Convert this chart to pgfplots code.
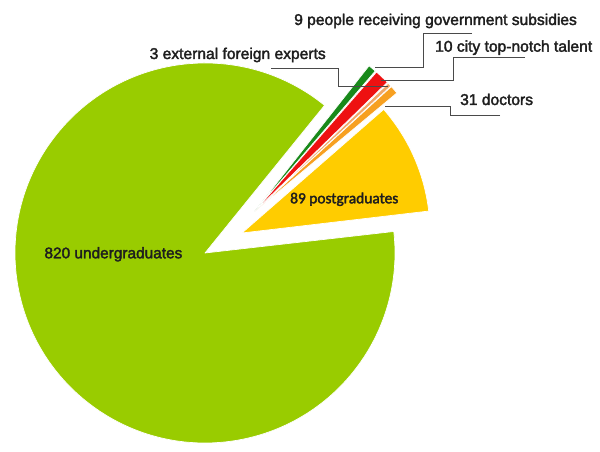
\documentclass[border=0pt]{standalone}
\usepackage{pgfplots}
\pgfplotsset{compat=1.18}
\usepackage{pgfplotstable}
\usepackage{fontspec}
\setmainfont{Liberation Sans}
\newfontfamily\lab{Liberation Sans}[FakeBold=2.2]
\newfontfamily\calib{Carlito}[FakeBold=2.2]
\definecolor{cUnder}{HTML}{99CC00}
\definecolor{cPost}{HTML}{FFCC00}
\definecolor{cDoc}{HTML}{F7A021}
\definecolor{cExp}{HTML}{F0A868}
\definecolor{cCity}{HTML}{EE1111}
\definecolor{cGov}{HTML}{18891A}
\definecolor{cLead}{HTML}{4A4A4A}
\definecolor{cTxt}{HTML}{1E1E1E}

% value, apex (x,y), radius, start/end angle as drawn in the picture
\pgfplotstableread{
value ax ay r a1 a2 col
820 205 199 190 51.0 366.5 cUnder
89 242 219 188 6.7 41.1 cPost
31 254 240 186 39.8 42.4 cDoc
3 254 240 186 42.6 43.8 cExp
10 254 240 186 44.2 48.8 cCity
9 254 240 186 49.3 51.8 cGov
}\slices

\begin{document}
\begin{tikzpicture}
\begin{axis}[
  x=1pt, y=1pt,
  xmin=0, xmax=600, ymin=0, ymax=452,
  hide axis, clip=false,
]
\coordinate (ll) at (axis cs:0,0);
\coordinate (ur) at (axis cs:600,452);
\pgfplotstablegetrowsof{\slices}
\pgfmathtruncatemacro\N{\pgfplotsretval-1}
\pgfplotsforeachungrouped \i in {0,...,\N}{%
  \pgfplotstablegetelem{\i}{ax}\of\slices \let\ax\pgfplotsretval
  \pgfplotstablegetelem{\i}{ay}\of\slices \let\ay\pgfplotsretval
  \pgfplotstablegetelem{\i}{r}\of\slices \let\rr\pgfplotsretval
  \pgfplotstablegetelem{\i}{a1}\of\slices \let\aone\pgfplotsretval
  \pgfplotstablegetelem{\i}{a2}\of\slices \let\atwo\pgfplotsretval
  \pgfplotstablegetelem{\i}{col}\of\slices \let\col\pgfplotsretval
  \edef\cmd{\noexpand\fill[\col, draw=white, line width=0.7pt, line join=round]
    (axis cs:\ax,\ay) -- ([shift={(\aone:\rr pt)}]axis cs:\ax,\ay)
    arc[start angle=\aone, end angle=\atwo, radius=\rr pt] -- cycle;}%
  \cmd
}
% leader lines
\addplot[cLead, line width=0.8pt, no marks] coordinates {(472,419) (423,419) (423,385) (375,385)};
\addplot[cLead, line width=0.8pt, no marks] coordinates {(525,395) (453,395) (453,372) (381,372)};
\addplot[cLead, line width=0.8pt, no marks] coordinates {(500,337) (450,337) (450,346) (385,346)};
\addplot[cLead, line width=0.8pt, no marks] coordinates {(271,384) (338,384) (338,366) (388,366)};
% labels
\node[anchor=base west, inner sep=0, text=cTxt, font=\lab\fontsize{15.6}{18}\selectfont] at (axis cs:294,427) {9 people receiving government subsidies};
\node[anchor=base west, inner sep=0, text=cTxt, font=\lab\fontsize{15.6}{18}\selectfont] at (axis cs:435,400.3) {10 city top-notch talent};
\node[anchor=base west, inner sep=0, text=cTxt, font=\lab\fontsize{15.6}{18}\selectfont] at (axis cs:460,347) {31 doctors};
\node[anchor=base west, inner sep=0, text=cTxt, font=\lab\fontsize{15.6}{18}\selectfont] at (axis cs:149.5,393) {3 external foreign experts};
\node[anchor=base west, inner sep=0, text=cTxt, font=\calib\fontsize{15.4}{18}\selectfont] at (axis cs:290,248.7) {89 postgraduates};
\node[anchor=base west, inner sep=0, text=cTxt, font=\lab\fontsize{15.4}{18}\selectfont] at (axis cs:44.3,193.7) {820 undergraduates};
\end{axis}
\pgfresetboundingbox
\path[use as bounding box] (ll) rectangle (ur);
\end{tikzpicture}
\end{document}
